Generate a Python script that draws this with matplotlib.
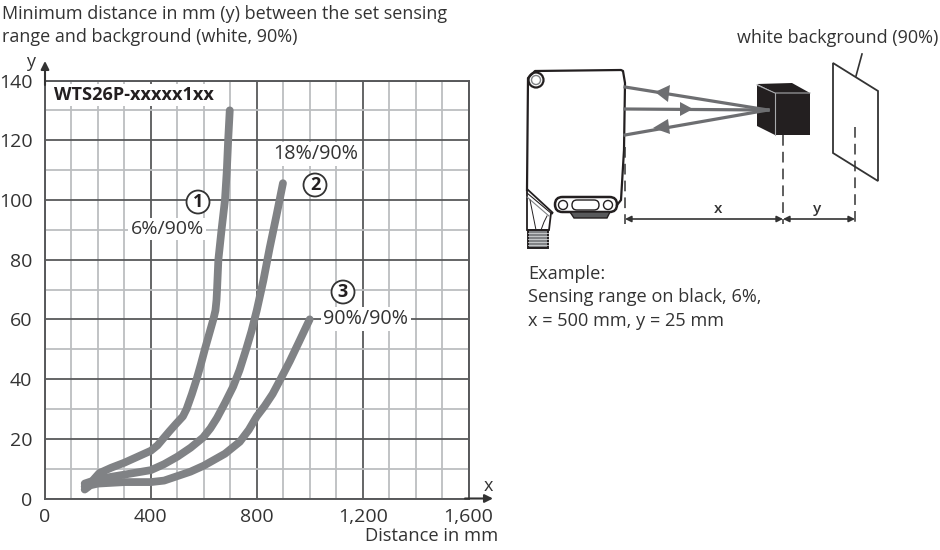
import matplotlib
matplotlib.use('Agg')
import matplotlib.pyplot as plt
from matplotlib.patches import Circle, FancyBboxPatch, Polygon, Rectangle

plt.rcParams['font.family'] = ['Open Sans', 'DejaVu Sans']

# curves
dist_6 = [150, 165, 185, 205, 250, 300, 350, 400, 425, 446, 470, 495, 521, 535, 555, 573, 589, 604, 620, 636, 644, 648, 650, 655, 667, 680, 687, 692, 698]
min_6 = [3, 4, 6.5, 8.5, 10.3, 12, 14, 16, 17.8, 20, 22.5, 25, 27.5, 30, 35, 40, 45, 50, 55, 60, 63, 66.5, 70, 80, 90, 100, 110, 120, 130]
dist_18 = [150, 200, 300, 400, 450, 500, 550, 597, 625, 650, 680, 711, 735, 760, 780, 800, 825, 849, 875, 899]
min_18 = [5, 6.5, 8, 9.5, 11.5, 14, 17, 20.4, 23.5, 27, 32, 37.5, 43, 50, 56, 63, 73, 84, 95, 105.6]
dist_90 = [150, 200, 300, 400, 450, 500, 550, 600, 640, 680, 736, 770, 800, 830, 860, 890, 925, 960, 1000]
min_90 = [4, 5, 5.5, 5.5, 6, 7.5, 9, 11, 13, 15, 19, 23, 27.5, 31, 35, 40, 46, 52.5, 60]

x_ticks = [0, 400, 800, 1200, 1600]
x_labels = ['0', '400', '800', '1,200', '1,600']
y_ticks = [0, 20, 40, 60, 80, 100, 120, 140]

TEXT = '#333333'
CURVE = '#808285'
BEAM = '#6d6e71'
FS = 12.95

fig = plt.figure(figsize=(9.4, 5.5), dpi=100)
ax = fig.add_axes([45 / 940, 51.5 / 550, 423.5 / 940, 418 / 550])
ax.set_xlim(0, 1600)
ax.set_ylim(0, 140)

ax.set_xticks(range(0, 1601, 100), minor=True)
ax.set_yticks(range(0, 141, 10), minor=True)
ax.set_xticks(x_ticks, x_labels)
ax.set_yticks(y_ticks)
ax.grid(which='minor', color='#bcbec0', lw=1.3)
ax.grid(which='major', color='#58595b', lw=1.3)
ax.set_axisbelow(True)
ax.tick_params(which='both', length=0)
ax.tick_params(axis='both', labelsize=14, labelcolor=TEXT)
ax.tick_params(axis='x', pad=7)
ax.tick_params(axis='y', pad=9)
for s in ax.spines.values():
    s.set_color('#58595b')
    s.set_linewidth(1.4)

for xs, ys in [(dist_6, min_6), (dist_18, min_18), (dist_90, min_90)]:
    ax.plot(xs, ys, color=CURVE, lw=5.6, solid_capstyle='round', solid_joinstyle='round', clip_on=False)

# overlay in pixel coordinates for the labels and the sensor sketch
ov = fig.add_axes([0, 0, 1, 1], facecolor='none')
ov.set_xlim(0, 940)
ov.set_ylim(550, 0)
ov.axis('off')

white = dict(facecolor='white', edgecolor='none', pad=1.5)


def label(x, y, s, ha='center', **kw):
    kw.setdefault('fontsize', FS)
    kw.setdefault('color', TEXT)
    ov.text(x, y + 2, s, ha=ha, va='center', **kw)


def arrow(p0, p1, style='-|>', color='#333333', lw=1.2, scale=11):
    ov.annotate('', xy=p1, xytext=p0, arrowprops=dict(arrowstyle=style, color=color, lw=lw,
                mutation_scale=scale, shrinkA=0, shrinkB=0))


label(2, 12, 'Minimum distance in mm (y) between the set sensing', ha='left')
label(2, 35, 'range and background (white, 90%)', ha='left')
label(31, 60, 'y')
label(488, 484, 'x')
label(432, 534, 'Distance in mm', fontsize=13.2)
label(54, 93, 'WTS26P-xxxxx1xx', ha='left', fontweight='bold', fontsize=13.1, color='#231f20', bbox=white)
label(167, 227, '6%/90%', fontsize=14, bbox=white)
label(316, 152, '18%/90%', fontsize=14.2, bbox=white)
label(366, 317, '90%/90%', fontsize=14.2, bbox=white)
for cx, cy, n in [(198, 202, '1'), (315, 185, '2'), (343, 292, '3')]:
    ov.add_patch(Circle((cx, cy), 11.5, facecolor='white', edgecolor=TEXT, lw=1.3))
    label(cx, cy - 2, n, fontweight='bold', fontsize=13, color='#231f20')

arrow((45, 85), (45, 61), lw=1.5, scale=12)
arrow((465, 498.5), (493, 498.5), lw=1.5, scale=12)

label(737, 36, 'white background (90%)', ha='left')
label(528, 272, 'Example:', ha='left', fontsize=13.1)
label(528, 295, 'Sensing range on black, 6%,', ha='left', fontsize=13.1)
label(528, 319, 'x = 500 mm, y = 25 mm', ha='left', fontsize=13.1)

# sensor body
K = '#231f20'
ov.plot([527, 528, 535, 621, 623, 625, 624, 621, 617], [190, 78, 71, 70, 71, 83, 150, 200, 205], color=K, lw=1.6)
ov.add_patch(Circle((536, 80), 7.5, facecolor='white', edgecolor=K, lw=1.6))
ov.add_patch(Circle((536, 80), 4.5, facecolor='white', edgecolor='#808285', lw=1))
ov.add_patch(FancyBboxPatch((555, 197), 62, 15, boxstyle='round,pad=0,rounding_size=7.5', facecolor='white', edgecolor=K, lw=1.8))
ov.add_patch(Circle((563, 205), 4.5, facecolor='white', edgecolor=K, lw=1))
ov.add_patch(Circle((608, 205), 4.5, facecolor='white', edgecolor=K, lw=1))
ov.add_patch(FancyBboxPatch((572, 200), 27, 10, boxstyle='round,pad=0,rounding_size=5', facecolor='white', edgecolor=K, lw=1))
ov.add_patch(Polygon([(570, 212), (610, 212), (607, 218), (574, 218)], facecolor='#58595b', edgecolor=K, lw=1))
# connector
ov.add_patch(Polygon([(527, 189), (553, 213), (551, 213), (549, 230), (527, 230)], facecolor='white', edgecolor=K, lw=1.3))
ov.plot([527, 552], [193, 214], color=K, lw=0.8)
ov.plot([527, 549], [197, 216], color='#808285', lw=0.8)
ov.plot([530, 533, 536], [200, 215, 230], color=K, lw=0.7)
ov.plot([547, 544, 541], [216, 222, 230], color=K, lw=0.7)
ov.add_patch(Rectangle((528, 230), 20, 18, facecolor='#808285', edgecolor=K, lw=1.4))
for yy in range(233, 247, 3):
    ov.plot([528, 548], [yy, yy], color='#d1d3d4', lw=0.6)

# target cube
ov.add_patch(Polygon([(757, 85), (775, 93), (775, 135), (757, 126)], facecolor=K, edgecolor='none'))
ov.add_patch(Polygon([(757, 84), (792, 83), (810, 93), (775, 93)], facecolor=K, edgecolor='none'))
ov.add_patch(Rectangle((775, 93), 35, 42, facecolor=K, edgecolor='none'))
ov.plot([757, 775, 810], [85, 93, 93], color='#a7a9ac', lw=0.8)
ov.plot([775, 775], [93, 135], color='#a7a9ac', lw=0.8)

# beams
for y0 in [87, 109, 135]:
    ov.plot([625, 768], [y0, 110], color=BEAM, lw=2.3)
for pts in [[(655, 92), (670, 85), (668, 102)],
            [(693, 109), (680, 102), (680, 116)],
            [(653, 128), (668, 119), (670, 134)]]:
    ov.add_patch(Polygon(pts, facecolor=BEAM, edgecolor='none'))

# background plane
ov.add_patch(Polygon([(833, 63), (878, 91), (878, 181), (833, 153)], facecolor='white', edgecolor='#333333', lw=1.3))
ov.plot([862, 856], [54, 76], color='#333333', lw=1.2)

# dimension lines
dash = dict(color='#333333', lw=1.1, dashes=(7, 4))
ov.plot([624.5, 624.5], [147, 224], **dash)
ov.plot([783, 783], [135, 224], **dash)
ov.plot([855, 855], [127, 224], **dash)
arrow((625, 219), (783, 219), style='<|-|>', scale=9)
arrow((783, 219), (855, 219), style='<|-|>', scale=9)
label(718, 207, 'x', fontsize=11, fontweight='semibold')
label(817, 207, 'y', fontsize=11, fontweight='semibold')

fig.savefig('out.png', dpi=100)
